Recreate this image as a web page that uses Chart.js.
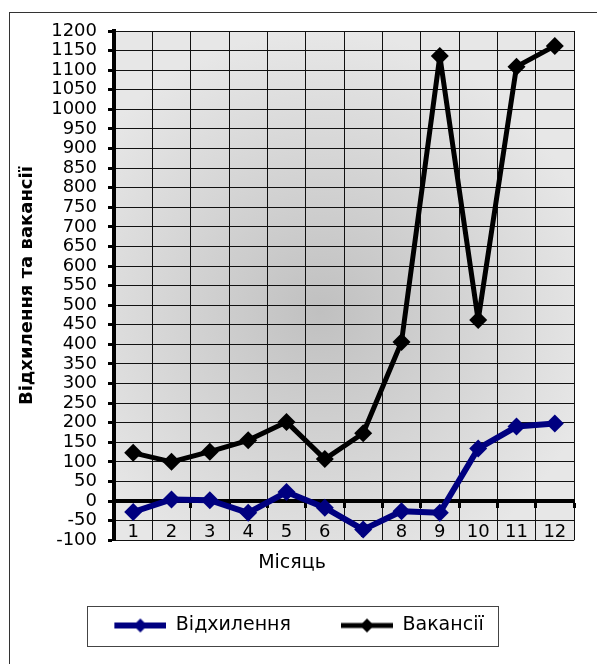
<!DOCTYPE html>
<html>
<head>
<meta charset="utf-8">
<script src="https://cdn.jsdelivr.net/npm/chart.js@4.4.0/dist/chart.umd.min.js"></script>
<style>
  html, body { margin:0; padding:0; background:#fff; }
</style>
</head>
<body>
<canvas id="chart" width="597" height="664"></canvas>
<script>
// data
const months = ['1','2','3','4','5','6','7','8','9','10','11','12'];
const deviation = [-28, 4, 2, -30, 23, -17, -73, -26, -30, 134, 190, 198];
const vacancies = [123, 100, 126, 155, 202, 107, 173, 406, 1136, 462, 1109, 1162];
const seriesNames = ['Відхилення', 'Вакансії'];
const yTitle = 'Відхилення та вакансії';
const xTitle = 'Місяць';

const FONT = '"DejaVu Sans", "Liberation Sans", Arial, sans-serif';
const NAVY = '#000080';
const ICON_GAP = 36;   // empty room left of each legend marker, widens the gap between items

// small canvas used as legend marker: line with a diamond in the middle
function legendIcon(color, lw){
  const c = document.createElement('canvas');
  c.width = 52 + ICON_GAP; c.height = 18;
  const g = c.getContext('2d');
  g.strokeStyle = color; g.lineWidth = lw;
  g.beginPath(); g.moveTo(ICON_GAP, 9); g.lineTo(ICON_GAP + 52, 9); g.stroke();
  const m = ICON_GAP + 26;
  g.fillStyle = color;
  g.beginPath(); g.moveTo(m, 2); g.lineTo(m + 7, 9); g.lineTo(m, 16); g.lineTo(m - 7, 9); g.closePath(); g.fill();
  return c;
}
const icons = [legendIcon(NAVY, 6), legendIcon('#000', 5)];

// white page, outer frame and grey "from centre" fill of the plot area
const backdrop = {
  id: 'backdrop',
  afterLayout(chart){
    // pull the legend back so its visible part sits in the middle
    if(chart.legend){ chart.legend.left -= 11; chart.legend.right -= 11; }
  },
  beforeDraw(chart){
    const {ctx, chartArea: a} = chart;
    ctx.save();
    ctx.fillStyle = '#fff';
    ctx.fillRect(0, 0, chart.width, chart.height);
    ctx.strokeStyle = '#333';
    ctx.lineWidth = 1;
    ctx.strokeRect(9.5, 12.5, chart.width + 20, chart.height + 20);
    const cx = a.left + a.width * 0.45, cy = a.top + a.height * 0.55;
    const grad = ctx.createRadialGradient(cx, cy, 0, cx, cy, a.height * 0.55);
    grad.addColorStop(0, '#c0c0c0');
    grad.addColorStop(1, '#e7e7e7');
    ctx.fillStyle = grad;
    ctx.fillRect(a.left, a.top, a.width, a.height);
    ctx.restore();
  }
};

// frame around the legend
const legendFrame = {
  id: 'legendFrame',
  afterDraw(chart){
    const boxes = chart.legend && chart.legend.legendHitBoxes;
    if(!boxes || !boxes.length) return;
    const left = Math.min(...boxes.map(b => b.left)) + ICON_GAP;
    const right = Math.max(...boxes.map(b => b.left + b.width));
    const cy = boxes[0].top + boxes[0].height / 2;
    const ctx = chart.ctx;
    ctx.save();
    ctx.strokeStyle = '#444';
    ctx.lineWidth = 1;
    ctx.strokeRect(Math.round(left - 27) + 0.5, Math.round(cy - 20) + 0.5, Math.round(right - left + 42), 40);
    ctx.restore();
  }
};

new Chart(document.getElementById('chart'), {
  type: 'line',
  data: {
    labels: months,
    datasets: [
      { label: seriesNames[0], data: deviation, borderColor: NAVY, backgroundColor: NAVY,
        borderWidth: 6, borderJoinStyle: 'round', pointStyle: 'rectRot', pointRadius: 9, pointBorderWidth: 0, tension: 0 },
      { label: seriesNames[1], data: vacancies, borderColor: '#000', backgroundColor: '#000',
        borderWidth: 5, borderJoinStyle: 'round', pointStyle: 'rectRot', pointRadius: 9, pointBorderWidth: 0, tension: 0 }
    ]
  },
  options: {
    responsive: false,
    animation: false,
    layout: { padding: { left: 10, right: 23, top: 31, bottom: 19 } },
    scales: {
      x: {
        type: 'category',
        position: { y: 0 },
        offset: true,
        grid: { offset: true, color: '#111', lineWidth: 1, tickLength: 5, tickWidth: 3, tickColor: '#000' },
        border: { display: true, color: '#000', width: 4 },
        ticks: { color: '#000', font: { family: FONT, size: 18 }, padding: 15, maxRotation: 0, autoSkip: false }
      },
      y: {
        min: -100, max: 1200,
        afterFit(scale){ scale.width = 104; },
        grid: { color: '#111', lineWidth: 1, tickLength: 6, tickWidth: 3, tickColor: '#000' },
        border: { display: true, color: '#000', width: 4 },
        ticks: { stepSize: 50, autoSkip: false, color: '#000', padding: 11,
                 callback: v => String(v),
                 font: { family: FONT, size: 18, lineHeight: 1 } },
        title: { display: true, text: yTitle, color: '#000', padding: { top: 7, bottom: 0 },
                 font: { family: FONT, size: 18, weight: 'bold' } }
      }
    },
    plugins: {
      title: {
        display: true, position: 'bottom', text: xTitle, weight: 500, color: '#000',
        font: { family: FONT, size: 19, weight: 'normal' }, padding: { top: 11, bottom: 28 }
      },
      legend: {
        position: 'bottom',
        labels: {
          usePointStyle: true, pointStyleWidth: 52 + ICON_GAP, boxHeight: 18,
          color: '#000', padding: 14,
          font: { family: FONT, size: 19 },
          generateLabels(chart){
            return chart.data.datasets.map((ds, i) => ({
              text: ds.label, pointStyle: icons[i], fillStyle: ds.borderColor,
              strokeStyle: ds.borderColor, lineWidth: 0, datasetIndex: i, hidden: false
            }));
          }
        }
      },
      tooltip: { enabled: false }
    }
  },
  plugins: [backdrop, legendFrame]
});
</script>
</body>
</html>
